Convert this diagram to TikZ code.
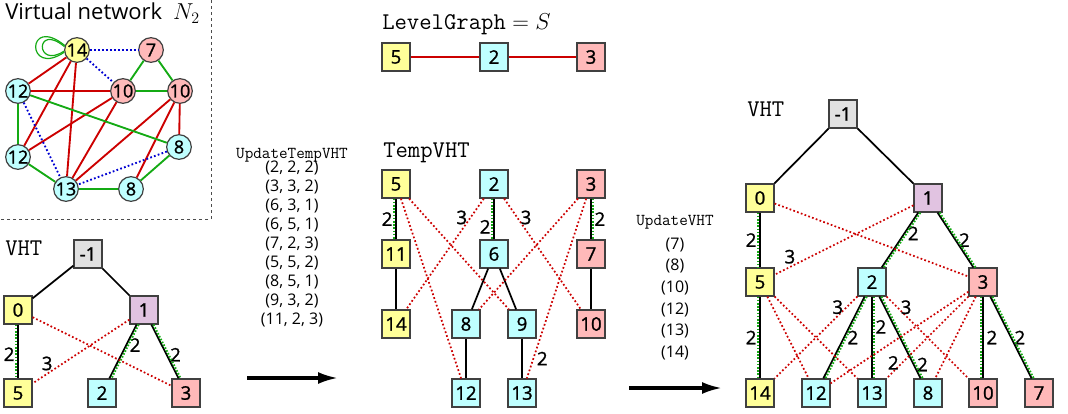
\documentclass[tikz,border=0pt]{standalone}
\usepackage{fontspec}
\setmainfont{Open Sans}
\newfontfamily\numfont[FakeBold=1.2]{Open Sans}
\usetikzlibrary{arrows.meta, calc}

\definecolor{vyellow}{RGB}{255,255,153}
\definecolor{vcyan}{RGB}{191,255,255}
\definecolor{vpink}{RGB}{255,185,185}
\definecolor{vgray}{RGB}{225,225,225}
\definecolor{vlilac}{RGB}{225,195,225}
\definecolor{vred}{RGB}{204,0,0}
\definecolor{vgreen}{RGB}{20,170,20}
\definecolor{vblue}{RGB}{0,0,210}

\begin{document}
\begin{tikzpicture}[x=0.75pt,y=-0.75pt,
	tbox/.style={draw=black!75, line width=0.9pt, minimum size=21pt, inner sep=0pt, font=\numfont\fontsize{14}{16}\selectfont},
	vnode/.style={circle, draw=black!75, line width=0.9pt, minimum size=18.5pt, inner sep=0pt, font=\numfont\fontsize{13.5}{15}\selectfont},
	tedge/.style={line width=1.3pt},
	subl/.style={vgreen, line width=1.6pt, dash pattern=on 1.2pt off 1.2pt, transform canvas={xshift=-1.5pt}},
	subr/.style={vgreen, line width=1.6pt, dash pattern=on 1.2pt off 1.2pt, transform canvas={xshift=1.5pt}},
	cross/.style={vred, line width=1.3pt, dash pattern=on 1.3pt off 1.7pt},
	lbl/.style={text=black, font=\numfont\fontsize{14}{16}\selectfont, inner sep=2pt},
	vnred/.style={vred, line width=1.4pt},
	vngreen/.style={vgreen, line width=1.4pt},
	vnblue/.style={vblue, line width=1.4pt, dash pattern=on 1.3pt off 1.7pt},
	title/.style={font=\ttfamily\fontsize{18}{20}\selectfont, inner sep=0pt, anchor=base west},
	opname/.style={font=\ttfamily\fontsize{12.5}{14}\selectfont, inner sep=0pt, anchor=base},
	tuple/.style={font=\fontsize{12}{14}\selectfont, inner sep=0pt, anchor=base},
	bigarrow/.style={line width=2.4pt, -{Latex[length=15pt,width=9pt]}},
	frame/.style={black!70, line width=0.7pt, dash pattern=on 2pt off 2.5pt}]

	\useasboundingbox (0,0) rectangle (1068,414);

	% virtual network
	\node[inner sep=0pt, anchor=base west, font=\fontsize{16.5}{18}\selectfont] (vntitle) at (5,20) {Virtual network\enskip$N_2$};
	\node[vnode, fill=vyellow] (v14) at (77,50) {14};
	\node[vnode, fill=vpink] (v7) at (151,50) {7};
	\node[vnode, fill=vpink] (v10a) at (123,91) {10};
	\node[vnode, fill=vpink] (v10b) at (180,91) {10};
	\node[vnode, fill=vcyan] (v12a) at (18,91) {12};
	\node[vnode, fill=vcyan] (v12b) at (18,157) {12};
	\node[vnode, fill=vcyan] (v8a) at (179,147) {8};
	\node[vnode, fill=vcyan] (v13) at (66,189) {13};
	\node[vnode, fill=vcyan] (v8b) at (131,189) {8};

	\foreach \a/\b in {v14/v12a, v14/v12b, v14/v13, v12a/v10a, v10a/v12b, v10a/v13, v10b/v13, v10b/v8b, v10b/v8a}
		\draw[vnred] (\a) -- (\b);
	\foreach \a/\b in {v7/v10a, v7/v10b, v10a/v10b, v12a/v8a, v12a/v12b, v12b/v13, v13/v8b, v8b/v8a}
		\draw[vngreen] (\a) -- (\b);
	\foreach \a/\b in {v14/v7, v14/v10a, v12a/v13, v8a/v13}
		\draw[vnblue] (\a) -- (\b);
	\draw[vgreen, line width=0.9pt] (v14.160) .. controls ($(v14)+(-51,-36)$) and ($(v14)+(-51,28)$) .. (v14.190);
	\draw[vgreen, line width=0.9pt] (v14.165) .. controls ($(v14)+(-42,-28)$) and ($(v14)+(-42,20)$) .. (v14.185);

	\coordinate (ftop) at (211,0);
	\coordinate (fcorner) at (211,219);
	\coordinate (fleft) at (0,219);
	\draw[frame] (ftop) -- (fcorner) -- (fleft);

	% VHT before
	\node[title] (lvht) at (5,255) {VHT};
	\node[tbox, fill=vgray] (lroot) at (88,254) {-1};
	\node[tbox, fill=vyellow] (l0) at (18,310) {0};
	\node[tbox, fill=vlilac] (l1) at (144,310) {1};
	\node[tbox, fill=vyellow] (l5) at (18,393) {5};
	\node[tbox, fill=vcyan] (l2) at (102,393) {2};
	\node[tbox, fill=vpink] (l3) at (186,393) {3};

	\draw[tedge] (lroot) -- (l0);
	\draw[tedge] (lroot) -- (l1);
	\draw[tedge] (l0) -- node[lbl, left, pos=0.55] {2} (l5);
	\draw[subl] (l0) -- (l5);
	\draw[tedge] (l1) -- node[lbl, right, pos=0.38] {2} (l2);
	\draw[subr] (l1) -- (l2);
	\draw[tedge] (l1) -- node[lbl, right, pos=0.56] {2} (l3);
	\draw[subr] (l1) -- (l3);
	\draw[cross] (l0) -- (l3);
	\draw[cross] (l1) -- node[lbl, above, pos=0.85] {3} (l5);

	% UpdateTempVHT
	\node[opname] (utv) at (292,158) {UpdateTempVHT};
	\foreach \tp [count=\i] in {{(2, 2, 2)}, {(3, 3, 2)}, {(6, 3, 1)}, {(6, 5, 1)}, {(7, 2, 3)}, {(5, 5, 2)}, {(8, 5, 1)}, {(9, 3, 2)}, {(11, 2, 3)}}
		\node[tuple] (tp\i) at (292,153.5+19*\i) {\tp};
	\coordinate (ua) at (247,378);
	\coordinate (ub) at (338,378);
	\draw[bigarrow] (ua) -- (ub);

	% level graph
	\node[title] (lgt) at (382,29) {LevelGraph${}=S$};
	\node[tbox, fill=vyellow] (g5) at (396,57) {5};
	\node[tbox, fill=vcyan] (g2) at (494,57) {2};
	\node[tbox, fill=vpink] (g3) at (591,57) {3};
	\draw[vnred] (g5) -- (g2);
	\draw[vnred] (g2) -- (g3);

	% TempVHT
	\node[title] (tvt) at (383,157) {TempVHT};
	\node[tbox, fill=vyellow] (t5) at (396,184) {5};
	\node[tbox, fill=vcyan] (t2) at (494,184) {2};
	\node[tbox, fill=vpink] (t3) at (591,184) {3};
	\node[tbox, fill=vyellow] (t11) at (396,254) {11};
	\node[tbox, fill=vcyan] (t6) at (494,254) {6};
	\node[tbox, fill=vpink] (t7) at (591,254) {7};
	\node[tbox, fill=vyellow] (t14) at (396,324) {14};
	\node[tbox, fill=vcyan] (t8) at (466,324) {8};
	\node[tbox, fill=vcyan] (t9) at (522,324) {9};
	\node[tbox, fill=vpink] (t10) at (591,324) {10};
	\node[tbox, fill=vcyan] (t12) at (466,393) {12};
	\node[tbox, fill=vcyan] (t13) at (522,393) {13};

	\draw[tedge] (t5) -- node[lbl, left] {2} (t11);
	\draw[subl] (t5) -- (t11);
	\draw[tedge] (t2) -- node[lbl, left, pos=0.69] {2} (t6);
	\draw[subl] (t2) -- (t6);
	\draw[tedge] (t3) -- node[lbl, right] {2} (t7);
	\draw[subr] (t3) -- (t7);
	\foreach \a/\b in {t11/t14, t6/t8, t6/t9, t8/t12, t9/t13, t7/t10}
		\draw[tedge] (\a) -- (\b);
	\draw[cross] (t5) -- (t9);
	\draw[cross] (t5) -- (t12);
	\draw[cross] (t2) -- node[lbl, left, pos=0.17] {3} (t14);
	\draw[cross] (t2) -- node[lbl, right, pos=0.17] {3} (t10);
	\draw[cross] (t3) -- (t8);
	\draw[cross] (t3) -- node[lbl, right, pos=0.89] {2} (t13);

	% UpdateVHT
	\node[opname] (uvh) at (675,225) {UpdateVHT};
	\foreach \u [count=\i] in {7, 8, 10, 12, 13, 14}
		\node[tuple] (up\i) at (675,227.3+21.7*\i) {(\u)};
	\coordinate (va) at (629,388);
	\coordinate (vb) at (722,388);
	\draw[bigarrow] (va) -- (vb);

	% VHT after
	\node[title] (rvht) at (747,116) {VHT};
	\node[tbox, fill=vgray] (rroot) at (843,114) {-1};
	\node[tbox, fill=vyellow] (r0) at (760,198) {0};
	\node[tbox, fill=vlilac] (r1) at (928,198) {1};
	\node[tbox, fill=vyellow] (r5) at (760,282) {5};
	\node[tbox, fill=vcyan] (r2) at (872,282) {2};
	\node[tbox, fill=vpink] (r3) at (983,282) {3};
	\node[tbox, fill=vyellow] (r14) at (760,393) {14};
	\node[tbox, fill=vcyan] (r12) at (816,393) {12};
	\node[tbox, fill=vcyan] (r13) at (872,393) {13};
	\node[tbox, fill=vcyan] (r8) at (928,393) {8};
	\node[tbox, fill=vpink] (r10) at (983,393) {10};
	\node[tbox, fill=vpink] (r7) at (1039,393) {7};

	\draw[tedge] (rroot) -- (r0);
	\draw[tedge] (rroot) -- (r1);
	\draw[tedge] (r0) -- node[lbl, left] {2} (r5);
	\draw[subl] (r0) -- (r5);
	\draw[tedge] (r1) -- node[lbl, right, pos=0.38] {2} (r2);
	\draw[subr] (r1) -- (r2);
	\draw[tedge] (r1) -- node[lbl, right] {2} (r3);
	\draw[subr] (r1) -- (r3);
	\draw[tedge] (r5) -- node[lbl, left] {2} (r14);
	\draw[subl] (r5) -- (r14);
	\draw[tedge] (r2) -- node[lbl, right] {2} (r12);
	\draw[subr] (r2) -- (r12);
	\draw[tedge] (r2) -- node[lbl, right, pos=0.37] {2} (r13);
	\draw[subr] (r2) -- (r13);
	\draw[tedge] (r2) -- node[lbl, right, pos=0.83] {2} (r8);
	\draw[subr] (r2) -- (r8);
	\draw[tedge] (r3) -- node[lbl, right] {2} (r10);
	\draw[subl] (r3) -- (r10);
	\draw[tedge] (r3) -- node[lbl, right] {2} (r7);
	\draw[subr] (r3) -- (r7);

	\draw[cross] (r0) -- (r3);
	\draw[cross] (r1) -- node[lbl, above, pos=0.89] {3} (r5);
	\draw[cross] (r5) -- (r12);
	\draw[cross] (r5) -- (r13);
	\draw[cross] (r2) -- node[lbl, left, pos=0.13] {3} (r14);
	\draw[cross] (r2) -- node[lbl, right, pos=0.13] {3} (r10);
	\draw[cross] (r3) -- (r12);
	\draw[cross] (r3) -- node[lbl, left, pos=0.81] {2} (r13);
	\draw[cross] (r3) -- (r8);
\end{tikzpicture}
\end{document}
